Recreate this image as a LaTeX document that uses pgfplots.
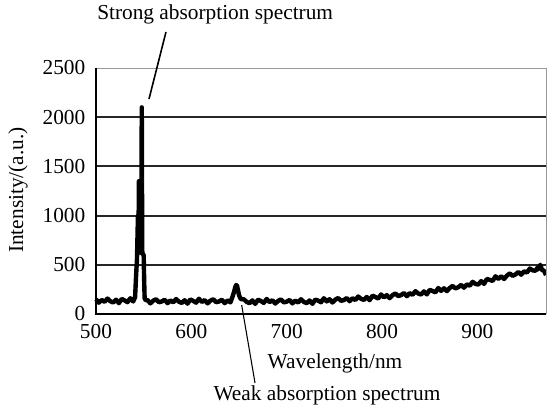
\documentclass[border=0pt]{standalone}
\usepackage{fontspec}
\setmainfont{Liberation Serif}
\usepackage{pgfplots}
\pgfplotsset{compat=1.18}

\begin{document}
\begin{tikzpicture}
\begin{axis}[scale only axis, width=337.5pt, height=184.5pt,
  xmin=500, xmax=972, ymin=0, ymax=2500, clip=false,
  axis line style={draw=none}, major tick length=0pt,
  xtick={500,600,...,900}, ytick={0,500,...,2000},
  extra y ticks={2500}, extra y tick style={grid=none},
  ymajorgrids, major grid style={black!85, line width=1.5pt},
  /pgf/number format/assume math mode=true, /pgf/number format/1000 sep={},
  tick label style={font=\fontsize{16}{19}\selectfont},
  yticklabel style={xshift=-4.5pt}, xticklabel style={yshift=-4pt}]
\addplot[black, line width=3.3pt, line join=round] coordinates {
(500,150) (503,115) (506,143) (509,123) (512,157) (515,130) (518,117) (521,145) (524,110) (527,153)
(530,138) (533,120) (536,160) (539,127) (541,170) (542,380) (543,560) (544,1000) (544.5,650) (545,1350)
(545.5,700) (546,1300) (546.5,640) (547,1200) (547.5,620) (548,2100) (548.5,640) (549,610) (550,600) (550.5,350)
(551,160) (552,140) (554,142) (557,108) (560,135) (563,150) (566,120) (569,127) (572,145) (575,110)
(578,138) (581,118) (584,152) (587,125) (590,112) (593,140) (596,105) (599,148) (602,133) (605,115)
(608,155) (611,122) (614,142) (617,108) (620,135) (623,150) (626,120) (629,127) (632,145) (635,110)
(638,138) (641,118) (643,170) (645,230) (646,270) (647,295) (648,285) (649,240) (650,190) (652,150)
(655,150) (658,123) (661,110) (664,138) (667,103) (670,146) (673,131) (676,113) (679,153) (682,120)
(685,140) (688,106) (691,133) (694,148) (697,118) (700,125) (703,143) (706,108) (709,136) (712,116)
(715,150) (718,123) (721,110) (724,138) (727,103) (730,146) (733,136) (736,119) (739,160) (742,128)
(745,150) (748,117) (751,146) (754,162) (757,134) (760,142) (763,162) (766,130) (769,160) (772,142)
(775,178) (778,154) (781,143) (784,173) (787,140) (790,186) (793,173) (796,157) (799,199) (802,169)
(805,192) (808,161) (811,191) (814,209) (817,182) (820,192) (823,213) (826,181) (829,212) (832,195)
(835,232) (838,208) (841,198) (844,230) (847,199) (850,245) (853,234) (856,220) (859,264) (862,235)
(865,261) (868,232) (871,264) (874,285) (877,260) (880,272) (883,296) (886,267) (889,301) (892,287)
(895,327) (898,306) (901,299) (904,334) (907,306) (910,356) (913,347) (916,336) (919,383) (922,357)
(925,383) (928,356) (931,390) (934,412) (937,388) (940,402) (943,427) (946,399) (949,434) (952,421)
(955,462) (958,444) (961,439) (963,470) (964,455) (966,500) (968,445) (970,440) (972,395)
};
% box: left and bottom black, top and right light grey
\draw[black!40, line width=0.6pt] (rel axis cs:0,1) -- (rel axis cs:1,1) -- (rel axis cs:1,0);
\draw[black, line width=1.5pt] (rel axis cs:0,1) -- (rel axis cs:0,0) -- (rel axis cs:1,0);
% annotations
\draw[black, line width=1.2pt] (axis cs:573.4,2866) -- (axis cs:555.6,2185);
\draw[black, line width=0.8pt] (axis cs:652.8,91) -- (axis cs:666.8,-701);
\node[font=\fontsize{16}{19}\selectfont] at (axis cs:625,3040) {Strong absorption spectrum};
\node[font=\fontsize{16}{19}\selectfont] at (axis cs:742.3,-823) {Weak absorption spectrum};
\node[font=\fontsize{16}{19}\selectfont] at (axis cs:750.7,-498) {Wavelength/nm};
\node[font=\fontsize{16}{19}\selectfont, rotate=90] at (axis cs:418.2,1260) {Intensity/(a.u.)};
\end{axis}
\pgfresetboundingbox
\path (-72pt,-71.25pt) rectangle (338.25pt,235.5pt);
\end{tikzpicture}
\end{document}
